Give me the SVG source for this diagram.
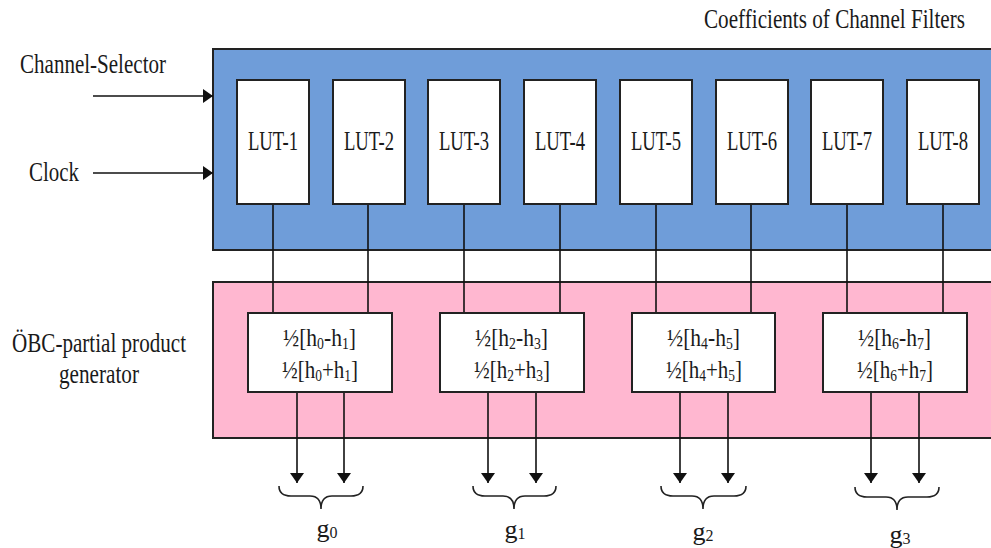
<svg xmlns="http://www.w3.org/2000/svg" width="991" height="548" viewBox="0 0 991 548">
<style>
text{font-family:"Liberation Serif","Times New Roman",serif;fill:#1a1a1a;font-size:27px}
.mid{text-anchor:middle}
.pp{font-size:25px}
.box{fill:#fff;stroke:#222;stroke-width:2}
.w{stroke:#111;stroke-width:1.6;fill:none}
.brace{stroke:#222;stroke-width:1.6;fill:none}
.sub{font-size:16px}
.gl{font-size:26px}
</style>
<defs>
<marker id="ah" viewBox="0 0 10 14" refX="10" refY="7" markerWidth="10" markerHeight="14" markerUnits="userSpaceOnUse" orient="auto">
<path d="M0,0 L10,7 L0,14 Z" fill="#111"/>
</marker>
</defs>
<rect width="991" height="548" fill="#fff"/>
<text x="704" y="28" textLength="261" lengthAdjust="spacingAndGlyphs">Coefficients of Channel Filters</text>
<g id="lut-block">
<rect x="213" y="49" width="800" height="201" fill="#6F9DD9" stroke="#222" stroke-width="2"/>
</g>
<g id="ppg-block">
<rect x="213" y="282" width="800" height="156" fill="#FFB7D0" stroke="#222" stroke-width="2"/>
</g>
<g id="connectors">
<line class="w" x1="93" y1="96" x2="213" y2="96" marker-end="url(#ah)"/>
<line class="w" x1="93" y1="173" x2="213" y2="173" marker-end="url(#ah)"/>
<line class="w" x1="273" y1="204" x2="273" y2="313"/>
<line class="w" x1="368" y1="204" x2="368" y2="313"/>
<line class="w" x1="464" y1="204" x2="464" y2="313"/>
<line class="w" x1="560" y1="204" x2="560" y2="313"/>
<line class="w" x1="656" y1="204" x2="656" y2="313"/>
<line class="w" x1="751" y1="204" x2="751" y2="313"/>
<line class="w" x1="847" y1="204" x2="847" y2="313"/>
<line class="w" x1="943" y1="204" x2="943" y2="313"/>
<line class="w" x1="297" y1="392" x2="297" y2="483" marker-end="url(#ah)"/>
<line class="w" x1="344" y1="392" x2="344" y2="483" marker-end="url(#ah)"/>
<line class="w" x1="488" y1="392" x2="488" y2="483" marker-end="url(#ah)"/>
<line class="w" x1="536" y1="392" x2="536" y2="483" marker-end="url(#ah)"/>
<line class="w" x1="680" y1="392" x2="680" y2="483" marker-end="url(#ah)"/>
<line class="w" x1="728" y1="392" x2="728" y2="483" marker-end="url(#ah)"/>
<line class="w" x1="871" y1="392" x2="871" y2="483" marker-end="url(#ah)"/>
<line class="w" x1="919" y1="392" x2="919" y2="483" marker-end="url(#ah)"/>
</g>
<text x="20" y="73" textLength="146" lengthAdjust="spacingAndGlyphs">Channel-Selector</text>
<text x="29" y="181" textLength="50" lengthAdjust="spacingAndGlyphs">Clock</text>
<text x="12" y="352" textLength="174" lengthAdjust="spacingAndGlyphs">ÖBC-partial product</text>
<text x="59" y="383" textLength="80" lengthAdjust="spacingAndGlyphs">generator</text>
<g id="lut1"><rect class="box" x="237" y="80" width="72" height="124"/><text class="mid" x="273" y="150" textLength="50" lengthAdjust="spacingAndGlyphs">LUT-1</text></g>
<g id="lut2"><rect class="box" x="333" y="80" width="72" height="124"/><text class="mid" x="369" y="150" textLength="50" lengthAdjust="spacingAndGlyphs">LUT-2</text></g>
<g id="lut3"><rect class="box" x="428" y="80" width="72" height="124"/><text class="mid" x="464" y="150" textLength="50" lengthAdjust="spacingAndGlyphs">LUT-3</text></g>
<g id="lut4"><rect class="box" x="524" y="80" width="72" height="124"/><text class="mid" x="560" y="150" textLength="50" lengthAdjust="spacingAndGlyphs">LUT-4</text></g>
<g id="lut5"><rect class="box" x="620" y="80" width="72" height="124"/><text class="mid" x="656" y="150" textLength="50" lengthAdjust="spacingAndGlyphs">LUT-5</text></g>
<g id="lut6"><rect class="box" x="716" y="80" width="72" height="124"/><text class="mid" x="752" y="150" textLength="50" lengthAdjust="spacingAndGlyphs">LUT-6</text></g>
<g id="lut7"><rect class="box" x="811" y="80" width="72" height="124"/><text class="mid" x="847" y="150" textLength="50" lengthAdjust="spacingAndGlyphs">LUT-7</text></g>
<g id="lut8"><rect class="box" x="907" y="80" width="72" height="124"/><text class="mid" x="943" y="150" textLength="50" lengthAdjust="spacingAndGlyphs">LUT-8</text></g>
<g id="ppg1"><rect class="box" x="248" y="313" width="144" height="79"/>
<text class="pp" x="283" y="346" textLength="73" lengthAdjust="spacingAndGlyphs">½[h<tspan class="sub" dy="3">0</tspan><tspan dy="-3">-h</tspan><tspan class="sub" dy="3">1</tspan><tspan dy="-3">]</tspan></text>
<text class="pp" x="282" y="378" textLength="76" lengthAdjust="spacingAndGlyphs">½[h<tspan class="sub" dy="3">0</tspan><tspan dy="-3">+h</tspan><tspan class="sub" dy="3">1</tspan><tspan dy="-3">]</tspan></text></g>
<g id="ppg2"><rect class="box" x="440" y="313" width="144" height="79"/>
<text class="pp" x="475" y="346" textLength="73" lengthAdjust="spacingAndGlyphs">½[h<tspan class="sub" dy="3">2</tspan><tspan dy="-3">-h</tspan><tspan class="sub" dy="3">3</tspan><tspan dy="-3">]</tspan></text>
<text class="pp" x="474" y="378" textLength="76" lengthAdjust="spacingAndGlyphs">½[h<tspan class="sub" dy="3">2</tspan><tspan dy="-3">+h</tspan><tspan class="sub" dy="3">3</tspan><tspan dy="-3">]</tspan></text></g>
<g id="ppg3"><rect class="box" x="632" y="313" width="143" height="79"/>
<text class="pp" x="667" y="346" textLength="73" lengthAdjust="spacingAndGlyphs">½[h<tspan class="sub" dy="3">4</tspan><tspan dy="-3">-h</tspan><tspan class="sub" dy="3">5</tspan><tspan dy="-3">]</tspan></text>
<text class="pp" x="666" y="378" textLength="76" lengthAdjust="spacingAndGlyphs">½[h<tspan class="sub" dy="3">4</tspan><tspan dy="-3">+h</tspan><tspan class="sub" dy="3">5</tspan><tspan dy="-3">]</tspan></text></g>
<g id="ppg4"><rect class="box" x="823" y="313" width="144" height="79"/>
<text class="pp" x="858" y="346" textLength="73" lengthAdjust="spacingAndGlyphs">½[h<tspan class="sub" dy="3">6</tspan><tspan dy="-3">-h</tspan><tspan class="sub" dy="3">7</tspan><tspan dy="-3">]</tspan></text>
<text class="pp" x="857" y="378" textLength="76" lengthAdjust="spacingAndGlyphs">½[h<tspan class="sub" dy="3">6</tspan><tspan dy="-3">+h</tspan><tspan class="sub" dy="3">7</tspan><tspan dy="-3">]</tspan></text></g>
<g id="g0"><path class="brace" d="M279,486 Q279,496 291,496 L310,496 Q321,496 321,509 Q321,496 332,496 L351,496 Q363,496 363,486"/>
<text class="mid gl" x="327" y="537">g<tspan class="sub" dy="1">0</tspan></text></g>
<g id="g1"><path class="brace" d="M473,486 Q473,496 485,496 L503,496 Q514,496 514,509 Q514,496 525,496 L544,496 Q556,496 556,486"/>
<text class="mid gl" x="515" y="538">g<tspan class="sub" dy="1">1</tspan></text></g>
<g id="g2"><path class="brace" d="M661,486 Q661,496 673,496 L692,496 Q703,496 703,509 Q703,496 714,496 L734,496 Q746,496 746,486"/>
<text class="mid gl" x="703" y="540">g<tspan class="sub" dy="1">2</tspan></text></g>
<g id="g3"><path class="brace" d="M855,487 Q855,497 867,497 L886,497 Q897,497 897,510 Q897,497 908,497 L927,497 Q939,497 939,487"/>
<text class="mid gl" x="900" y="543">g<tspan class="sub" dy="1">3</tspan></text></g>
</svg>
